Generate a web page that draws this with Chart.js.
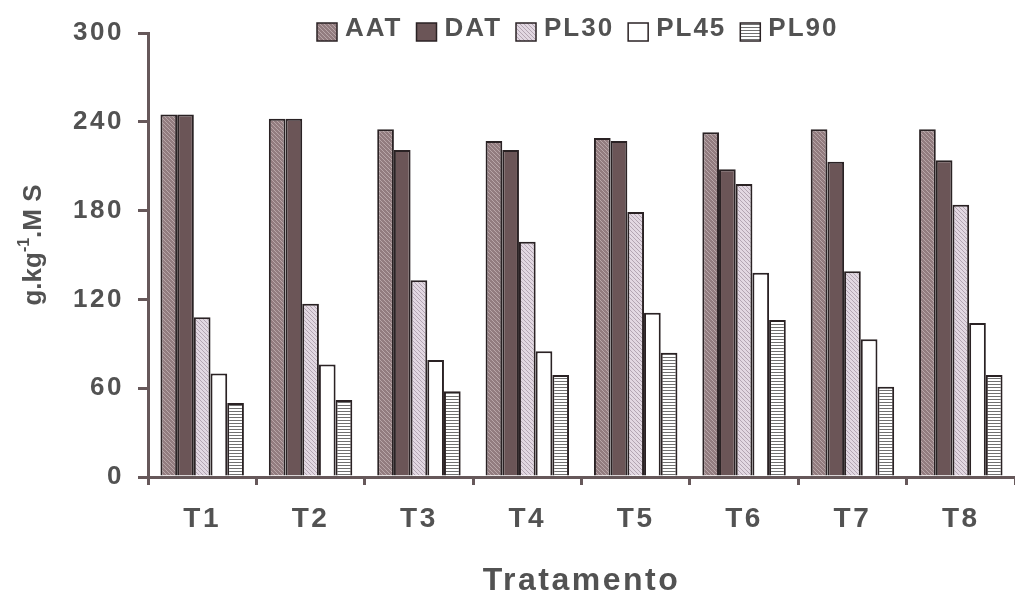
<!DOCTYPE html>
<html>
<head>
<meta charset="utf-8">
<script src="https://cdn.jsdelivr.net/npm/chart.js@4.4.1/dist/chart.umd.min.js"></script>
<style>
    html, body { margin: 0; padding: 0; background: #ffffff; overflow: hidden; }
    #wrap { width: 1015px; height: 594px; position: relative; }
</style>
</head>
<body>
<div id="wrap"><canvas id="teorChart"></canvas></div>
<script>
// Chart data
const tratamentos = ['T1', 'T2', 'T3', 'T4', 'T5', 'T6', 'T7', 'T8'];
const serieAAT  = [245, 242, 235, 227, 229, 233, 235, 235];
const serieDAT  = [245, 242, 221, 221, 227, 208, 213, 214];
const seriePL30 = [108, 117, 133, 159, 179, 198, 139, 184];
const seriePL45 = [70, 76, 79, 85, 111, 138, 93, 104];
const seriePL90 = [50, 52, 58, 69, 84, 106, 61, 69];
const yTicks = [0, 60, 120, 180, 240, 300];

const axisColor = '#66585a';
const textColor = '#525252';
const fontFamily = "'Liberation Sans', Arial, sans-serif";

// 1. Fill patterns for the bars
function makePattern(base, line, kind) {
    const n = kind === 'horizontal' ? 3 : 4;
    const c = document.createElement('canvas');
    c.width = n;
    c.height = n;
    const g = c.getContext('2d');
    g.fillStyle = base;
    g.fillRect(0, 0, n, n);
    g.strokeStyle = line;
    g.lineWidth = 1;
    g.beginPath();
    if (kind === 'horizontal') {
        g.moveTo(0, 0.5);
        g.lineTo(n, 0.5);
    } else {
        g.moveTo(0, 0); g.lineTo(n, n);
        g.moveTo(-1, n - 1); g.lineTo(1, n + 1);
        g.moveTo(n - 1, -1); g.lineTo(n + 1, 1);
    }
    g.stroke();
    return g.createPattern(c, 'repeat');
}

const fillAAT  = makePattern('#927c7f', '#b8a6a8', 'diagonal');
const fillDAT  = '#6b5557';
const fillPL30 = makePattern('#e2d8e2', '#b3a5b2', 'diagonal');
const fillPL45 = '#ffffff';
const fillPL90 = makePattern('#ffffff', '#707070', 'horizontal');

function barSet(label, data, fill) {
    return {
        label: label,
        data: data,
        backgroundColor: fill,
        borderColor: '#2a2224',
        borderWidth: 2,
        barPercentage: 1.0,
        categoryPercentage: 0.77
    };
}

// 2. Plugins: letter spacing, legend row, rotated y title
const spacingPlugin = {
    id: 'spacing',
    beforeLayout(chart) { chart.ctx.letterSpacing = '2.5px'; },
    beforeDraw(chart) { chart.ctx.letterSpacing = '2.5px'; }
};

const legendRow = {
    id: 'legendRow',
    afterDraw(chart) {
        const ctx = chart.ctx;
        ctx.save();
        ctx.letterSpacing = '2px';
        ctx.font = 'bold 26px ' + fontFamily;
        ctx.textBaseline = 'alphabetic';
        let x = 317;
        chart.data.datasets.forEach((ds) => {
            ctx.fillStyle = ds.backgroundColor;
            ctx.fillRect(x, 23, 20, 18);
            ctx.strokeStyle = '#2a2224';
            ctx.lineWidth = 1.5;
            ctx.strokeRect(x, 23, 20, 18);
            ctx.fillStyle = textColor;
            ctx.fillText(ds.label, x + 28, 36);
            x += 28 + ctx.measureText(ds.label).width + 14;
        });
        ctx.restore();
    }
};

const yTitle = {
    id: 'yTitle',
    afterDraw(chart) {
        const ctx = chart.ctx;
        ctx.save();
        ctx.letterSpacing = '0px';
        ctx.translate(41, 245);
        ctx.rotate(-Math.PI / 2);
        ctx.fillStyle = textColor;
        ctx.textBaseline = 'alphabetic';
        const big = 'bold 26px ' + fontFamily;
        const small = 'bold 16px ' + fontFamily;
        const parts = [['g.kg', big, 0], ['-1', small, -12], ['.M S', big, 0]];
        let total = 0;
        parts.forEach((p) => { ctx.font = p[1]; total += ctx.measureText(p[0]).width; });
        let x = -total / 2;
        parts.forEach((p) => {
            ctx.font = p[1];
            ctx.fillText(p[0], x, p[2]);
            x += ctx.measureText(p[0]).width;
        });
        ctx.restore();
    }
};

// 3. Build chart
const ctx = document.getElementById('teorChart').getContext('2d');
new Chart(ctx, {
    type: 'bar',
    data: {
        labels: tratamentos,
        datasets: [
            barSet('AAT', serieAAT, fillAAT),
            barSet('DAT', serieDAT, fillDAT),
            barSet('PL30', seriePL30, fillPL30),
            barSet('PL45', seriePL45, fillPL45),
            barSet('PL90', seriePL90, fillPL90)
        ]
    },
    options: {
        responsive: true,
        maintainAspectRatio: false,
        animation: false,
        layout: { padding: { top: 33, right: 0, bottom: 0, left: 0 } },
        plugins: {
            legend: { display: false },
            tooltip: { enabled: false }
        },
        scales: {
            x: {
                grid: {
                    drawOnChartArea: false,
                    drawTicks: true,
                    tickLength: 8,
                    color: axisColor,
                    lineWidth: 3
                },
                border: { color: axisColor, width: 3 },
                ticks: {
                    color: textColor,
                    padding: 17,
                    font: { family: fontFamily, size: 28, weight: 'bold' }
                },
                title: {
                    display: true,
                    text: 'Tratamento',
                    color: textColor,
                    padding: 0,
                    font: { family: fontFamily, size: 32, weight: 'bold', lineHeight: 0.8 }
                },
                afterFit(scale) { scale.height = 117; }
            },
            y: {
                min: 0,
                max: 300,
                afterBuildTicks(scale) { scale.ticks = yTicks.map((v) => ({ value: v })); },
                grid: {
                    drawOnChartArea: false,
                    drawTicks: true,
                    tickLength: 10,
                    color: axisColor,
                    lineWidth: 3
                },
                border: { color: axisColor, width: 3 },
                ticks: {
                    color: textColor,
                    padding: 14,
                    font: { family: fontFamily, size: 26, weight: 'bold' }
                },
                afterFit(scale) { scale.width = 148; }
            }
        }
    },
    plugins: [spacingPlugin, legendRow, yTitle]
});
</script>
</body>
</html>
